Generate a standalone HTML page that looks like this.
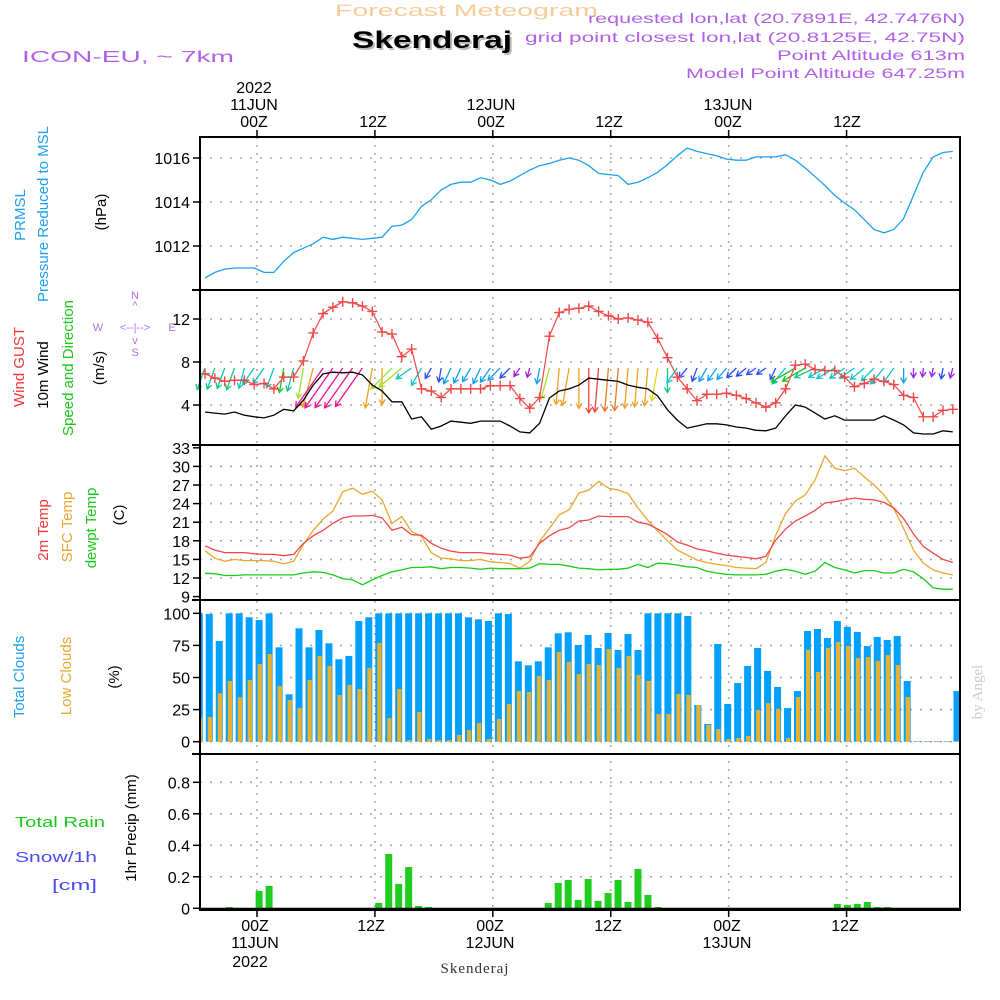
<!DOCTYPE html>
<html><head><meta charset="utf-8"><title>Forecast Meteogram Skenderaj</title>
<style>
html,body{margin:0;padding:0;background:#fff;}
svg{display:block;font-family:"Liberation Sans",sans-serif;}
</style></head>
<body>
<svg id="chart" xmlns="http://www.w3.org/2000/svg" width="1000" height="1000" viewBox="0 0 1000 1000">
<rect x="0" y="0" width="1000" height="1000" fill="#fff"/>
<g id="grid"></g>
<g id="marks"></g>
<g id="axes"></g>
<!-- header -->
<text x="335" y="16" font-size="17" fill="#f5cc98" textLength="263" lengthAdjust="spacingAndGlyphs">Forecast Meteogram</text>
<text x="354" y="50" font-size="24" font-weight="bold" fill="#bbb" textLength="160" lengthAdjust="spacingAndGlyphs">Skenderaj</text>
<text x="352" y="48" font-size="24" font-weight="bold" fill="#000" textLength="160" lengthAdjust="spacingAndGlyphs">Skenderaj</text>
<text x="22" y="62" font-size="16" fill="#b060e8" textLength="212" lengthAdjust="spacingAndGlyphs">ICON-EU, ~ 7km</text>
<text x="965" y="23" font-size="14" fill="#b060e8" text-anchor="end" textLength="377" lengthAdjust="spacingAndGlyphs">requested lon,lat (20.7891E, 42.7476N)</text>
<text x="965" y="42" font-size="14" fill="#b060e8" text-anchor="end" textLength="440" lengthAdjust="spacingAndGlyphs">grid point closest lon,lat (20.8125E, 42.75N)</text>
<text x="965" y="60" font-size="14" fill="#b060e8" text-anchor="end" textLength="188" lengthAdjust="spacingAndGlyphs">Point Altitude 613m</text>
<text x="965" y="78" font-size="14" fill="#b060e8" text-anchor="end" textLength="279" lengthAdjust="spacingAndGlyphs">Model Point Altitude 647.25m</text>
<!-- top time labels -->
<g font-size="16" fill="#000" text-anchor="middle">
<text x="254" y="93">2022</text>
<text x="254" y="110">11JUN</text>
<text x="254" y="127">00Z</text>
<text x="373" y="127">12Z</text>
<text x="491" y="110">12JUN</text>
<text x="491" y="127">00Z</text>
<text x="609" y="127">12Z</text>
<text x="728" y="110">13JUN</text>
<text x="728" y="127">00Z</text>
<text x="847" y="127">12Z</text>
</g>
<g font-size="16" fill="#000" text-anchor="middle">
<text x="255" y="931">00Z</text>
<text x="255" y="948">11JUN</text>
<text x="250" y="967">2022</text>
<text x="371" y="931">12Z</text>
<text x="490" y="931">00Z</text>
<text x="490" y="948">12JUN</text>
<text x="608" y="931">12Z</text>
<text x="727" y="931">00Z</text>
<text x="727" y="948">13JUN</text>
<text x="845" y="931">12Z</text>
</g>
<text x="475" y="973" font-size="15" font-family="Liberation Serif, serif" fill="#333" text-anchor="middle" letter-spacing="1">Skenderaj</text>
<!-- left axis titles -->
<g font-size="15" text-anchor="middle">
<text transform="translate(25,215) rotate(-90)" fill="#1ea0f0">PRMSL</text>
<text transform="translate(48,214) rotate(-90)" fill="#1ea0f0">Pressure Reduced to MSL</text>
<text transform="translate(106,212) rotate(-90)" fill="#000">(hPa)</text>
<text transform="translate(24,367) rotate(-90)" fill="#f03838">Wind GUST</text>
<text transform="translate(48,375) rotate(-90)" fill="#000">10m Wind</text>
<text transform="translate(73,368) rotate(-90)" fill="#1cc81c">Speed and Direction</text>
<text transform="translate(104,368) rotate(-90)" fill="#000">(m/s)</text>
<text transform="translate(48,530) rotate(-90)" fill="#f03838">2m Temp</text>
<text transform="translate(72,527) rotate(-90)" fill="#e8a830">SFC Temp</text>
<text transform="translate(96,528) rotate(-90)" fill="#1cc81c">dewpt Temp</text>
<text transform="translate(124,515) rotate(-90)" fill="#000">(C)</text>
<text transform="translate(24,677) rotate(-90)" fill="#1ea0f0">Total Clouds</text>
<text transform="translate(71,676) rotate(-90)" fill="#e8a830">Low Clouds</text>
<text transform="translate(119,677) rotate(-90)" fill="#000">(%)</text>
<text transform="translate(136,828) rotate(-90)" fill="#000">1hr Precip (mm)</text>
</g>
<text x="15" y="827" font-size="15" fill="#1cc81c" textLength="90" lengthAdjust="spacingAndGlyphs">Total  Rain</text>
<text x="15" y="862" font-size="15" fill="#4a4af0" textLength="82" lengthAdjust="spacingAndGlyphs">Snow/1h</text>
<text x="52" y="890" font-size="15" fill="#4a4af0" textLength="45" lengthAdjust="spacingAndGlyphs">[cm]</text>
<text transform="translate(982,692) rotate(-90)" font-size="15" font-family="Liberation Serif, serif" fill="#ccc" text-anchor="middle">by Angel</text>
<!-- compass -->
<g font-size="11" fill="#b070e8" text-anchor="middle">
<text x="135" y="299">N</text>
<text x="135" y="309">^</text>
<text x="98" y="331">W</text>
<text x="135" y="331">&lt;--|--&gt;</text>
<text x="172" y="331">E</text>
<text x="135" y="344">v</text>
<text x="135" y="356">S</text>
</g>
</svg>
<script>
// ---- data (hourly, index 0..76) ----
const pressure = [1010.55,1010.8,1010.95,1011.0,1011.0,1011.0,1010.8,1010.8,1011.3,1011.7,1011.9,1012.1,1012.4,1012.3,1012.4,1012.35,1012.3,1012.35,1012.4,1012.9,1012.95,1013.2,1013.8,1014.1,1014.55,1014.8,1014.9,1014.9,1015.1,1015.0,1014.8,1014.95,1015.2,1015.45,1015.65,1015.75,1015.9,1016.0,1015.9,1015.65,1015.3,1015.25,1015.2,1014.8,1014.9,1015.1,1015.35,1015.7,1016.1,1016.45,1016.3,1016.2,1016.1,1015.95,1015.9,1015.9,1016.05,1016.05,1016.05,1016.15,1015.9,1015.55,1015.15,1014.75,1014.3,1013.95,1013.65,1013.2,1012.75,1012.6,1012.75,1013.25,1014.3,1015.35,1016.05,1016.25,1016.3];
const windGust = [6.9,6.5,6.2,6.3,6.3,5.9,6.0,5.5,6.6,6.6,8.1,10.7,12.5,13.1,13.6,13.5,13.2,12.7,10.8,10.6,8.5,9.2,5.5,5.3,4.7,5.5,5.5,5.5,5.5,5.8,5.8,5.8,4.6,3.7,4.7,10.4,12.6,12.9,13.0,13.2,12.7,12.3,12.0,12.1,11.9,11.7,10.2,8.4,6.6,5.5,4.4,5.0,5.0,5.1,4.9,4.6,4.2,3.8,4.2,5.5,7.7,7.8,7.3,7.2,7.2,6.6,5.7,6.0,6.4,6.2,5.9,4.9,4.7,2.9,2.9,3.5,3.6];
const windSpeed = [3.35,3.25,3.15,3.35,3.05,2.9,2.8,3.05,3.6,3.45,4.45,5.85,6.9,7.05,7.0,7.05,6.8,5.85,5.3,4.3,4.3,2.7,2.9,1.75,2.05,2.5,2.4,2.3,2.5,2.5,2.5,2.05,1.5,1.4,2.3,4.65,5.3,5.5,5.85,6.5,6.4,6.3,6.2,5.85,5.65,5.5,4.85,3.55,2.6,1.85,2.05,2.25,2.25,2.15,1.95,1.85,1.65,1.6,1.85,3.0,4.0,3.8,3.25,2.7,3.0,2.6,2.6,2.6,2.6,3.0,2.6,2.15,1.4,1.3,1.3,1.6,1.5];
const windDir = [20,20,20,20,15,35,35,20,10,15,10,15,35,35,35,35,35,10,0,45,50,55,30,30,10,25,25,30,25,35,45,45,35,15,10,15,5,10,0,0,5,5,5,5,5,5,10,0,35,40,20,30,35,40,45,50,55,55,25,40,60,60,65,60,60,55,55,50,45,40,35,0,0,5,10,10,15];
const temp2m = [17.2,16.5,16.1,16.1,16.1,15.9,15.8,15.8,15.6,15.8,17.6,18.8,19.7,20.8,21.7,22.0,22.0,22.1,21.7,19.7,20.2,19.0,18.9,17.6,16.8,16.3,16.1,16.1,16.1,15.9,15.8,15.7,15.2,15.4,17.6,18.8,19.7,20.1,21.2,21.35,22.0,21.9,21.9,21.9,21.0,20.7,19.9,19.0,17.8,17.3,16.7,16.4,16.0,15.7,15.5,15.3,15.1,15.5,18.1,19.9,21.2,22.0,22.9,24.1,24.3,24.6,24.9,24.7,24.6,24.2,23.3,21.6,19.1,17.1,16.0,15.0,14.5];
const tempSfc = [16.4,15.2,14.7,15.0,14.8,14.8,14.8,14.7,14.3,14.7,17.4,19.7,21.5,22.8,25.9,26.5,25.5,26.0,24.6,20.8,21.9,19.5,18.7,16.1,15.2,15.1,14.8,14.8,15.0,14.6,14.5,14.3,13.6,14.7,17.9,20.0,22.2,23.0,25.7,26.2,27.6,26.5,26.2,25.6,23.3,21.3,19.6,18.0,16.5,15.7,14.9,14.5,14.2,14.0,13.7,13.6,13.5,14.5,18.9,22.4,24.4,25.4,27.8,31.7,29.7,29.3,29.7,28.3,27.0,25.4,23.2,20.0,16.5,14.4,13.3,12.8,12.5];
const dewpoint = [12.76,12.7,12.4,12.4,12.5,12.5,12.5,12.5,12.5,12.5,12.8,13.0,12.9,12.5,11.9,11.7,10.9,11.7,12.4,13.0,13.3,13.7,13.7,13.8,13.5,13.7,13.7,13.6,13.4,13.6,13.5,13.5,13.5,13.6,14.3,14.2,14.2,13.9,13.6,13.5,13.3,13.4,13.4,13.6,14.2,13.7,14.4,14.3,14.1,13.8,13.7,13.1,12.8,12.6,12.5,12.5,12.5,12.6,13.1,13.4,13.1,12.6,13.1,14.5,13.7,13.3,12.8,13.2,13.2,12.8,12.8,13.4,13.0,11.9,10.4,10.2,10.2];
const totalClouds = [100,99.5,78.4,100,100,96.9,94.8,100,73.5,36.9,88.3,73.5,87,76.6,64.2,66.8,94,96.9,100,100,100,100,100,100,100,100,100,96.9,95.3,94,100,99.5,62.6,59.5,62.6,73.5,84.4,85.2,75.3,83.1,73,84.7,71.4,83.9,71.4,100,100,100,100,97.9,28.6,13.8,76.1,29.4,45.7,59,73,55.1,42.6,26.2,39.5,86.2,87.8,80.8,94,89.4,85.5,74.5,81.6,79.2,82.3,47.3,0.5,0.5,0.5,0.5,39.5];
const lowClouds = [18.4,19.2,37.7,47.3,34.5,48,60.5,68.3,43.4,32.5,26.2,48,66.8,59,36.4,44.2,41,57.4,76.9,18.4,41,1.3,23.1,2.1,1.3,1.3,5.2,9.1,14.5,2.1,17.7,29.4,39.5,38.7,51.2,48,69.9,62.1,52.7,60.5,59.7,72.2,57.4,66.8,52,47.3,21.6,21.6,37.1,36.4,28.6,13,9.9,2.1,2.9,4.4,24.7,30.1,25.5,2.9,34.8,71.4,54.3,73,77.7,74.5,65.2,66,62.9,67.5,59.7,34.8,0.5,0.5,0.5,0.5,0.5];
const precip = [0,0.002,0.002,0.008,0,0,0.11,0.142,0,0,0,0,0,0,0,0,0,0,0.034,0.345,0.155,0.262,0.015,0.008,0,0,0,0,0,0,0,0,0,0,0,0.034,0.161,0.18,0.053,0.186,0.047,0.097,0.18,0.04,0.25,0.085,0.008,0,0,0,0,0,0,0,0,0,0,0,0,0,0,0,0,0,0.028,0.021,0.028,0.04,0.008,0.008,0,0,0,0,0,0,0];
const timeTickHours = [0,12,24,36,48,60];
const pressureTicks = [1012,1014,1016];
const windTicks = [4,8,12];
const tempTicks = [9,12,15,18,21,24,27,30,33];
const cloudTicks = [0,25,50,75,100];
const precipTicks = [0,0.2,0.4,0.6,0.8];
const precipTickLabels = ["0","0.2","0.4","0.6","0.8"];

// ---- scales ----
const NS="http://www.w3.org/2000/svg";
const xLine = i => 205 + i*9.84;
const xBar = i => 199.3 + i*9.97;
const xHour = h => 257 + h*9.826;
const yP = p => 158 + (1016-p)*22;
const yW = v => 448 - v*10.75;
const yT = t => 578 - (t-12)*6.2;
const yC = c => 741.7 - c*1.284;
const yR = r => 908.3 - r*157.5;
const L=200, R=960;
const panels=[[137,290],[290,445],[445,600],[600,754],[754,910]];

function mk(tag, attrs, parent){
  const e=document.createElementNS(NS,tag);
  for(const k in attrs) e.setAttribute(k,attrs[k]);
  parent.appendChild(e);
  return e;
}
const gGrid=document.getElementById('grid');
const gMarks=document.getElementById('marks');
const gAxes=document.getElementById('axes');

// grid: vertical time lines
timeTickHours.forEach(h=>{
  const ln=mk('line',{x1:xHour(h),x2:xHour(h),y1:137,y2:910,stroke:'#aaa','stroke-width':1.6,'stroke-dasharray':'2,6'},gGrid);
  
  
});
function hgrid(vals, f, name){
  vals.forEach(v=>{
    const ln=mk('line',{x1:L,x2:R,y1:f(v),y2:f(v),stroke:'#aaa','stroke-width':1.6,'stroke-dasharray':'2,8'},gGrid);
    
    
  });
}
hgrid(pressureTicks,yP,'pressure-gridline');
hgrid(windTicks,yW,'wind-gridline');
hgrid(tempTicks.slice(1,-1),yT,'temp-gridline');
hgrid(cloudTicks,yC,'cloud-gridline');
hgrid(precipTicks.slice(1),yR,'precip-gridline');

function pts(arr,fy){return arr.map((v,i)=>xLine(i).toFixed(1)+','+fy(v).toFixed(1)).join(' ');}

// pressure line
const pl=mk('polyline',{points:pts(pressure,yP),fill:'none',stroke:'#1ea0f0','stroke-width':1.3},gMarks);



// wind arrows
function windColor(s){
  if(s<1.6) return '#9a20e8';
  if(s<2.1) return '#2a4cf5';
  if(s<2.6) return '#10a0f0';
  if(s<3.1) return '#10c4c8';
  if(s<3.6) return '#10c88c';
  if(s<4.2) return '#20c020';
  if(s<4.8) return '#a0e030';
  if(s<5.2) return '#e0d820';
  if(s<5.9) return '#f0a020';
  if(s<6.4) return '#f07820';
  if(s<6.8) return '#f04040';
  return '#f01090';
}
windSpeed.forEach((s,i)=>{
  const a=windDir[i]*Math.PI/180, len=s*6.9;
  const x0=xLine(i), y0=368;
  const x1=x0-len*Math.sin(a), y1=y0+len*Math.cos(a);
  const ux=(x1-x0)/len, uy=(y1-y0)/len, hs=6;
  const c=windColor(s);
  const d=`M${x0.toFixed(1)},${y0} L${x1.toFixed(1)},${y1.toFixed(1)} M${(x1-hs*(ux*0.85-uy*0.5)).toFixed(1)},${(y1-hs*(uy*0.85+ux*0.5)).toFixed(1)} L${x1.toFixed(1)},${y1.toFixed(1)} L${(x1-hs*(ux*0.85+uy*0.5)).toFixed(1)},${(y1-hs*(uy*0.85-ux*0.5)).toFixed(1)}`;
  const p=mk('path',{d:d,fill:'none',stroke:c,'stroke-width':1.3},gMarks);
  
  
});
// wind speed line
const wl=mk('polyline',{points:pts(windSpeed,yW),fill:'none',stroke:'#000','stroke-width':1.3},gMarks);


// gust line + markers
const gl=mk('polyline',{points:pts(windGust,yW),fill:'none',stroke:'#f04848','stroke-width':1.2},gMarks);


windGust.forEach((v,i)=>{
  const x=xLine(i), y=yW(v);
  const m=mk('path',{d:`M${x-5},${y} H${x+5} M${x},${y-5} V${y+5}`,stroke:'#f04848','stroke-width':1.4},gMarks);
  
  
});

// temperature lines
[[tempSfc,'#e8a830','sfc-temp-line'],[temp2m,'#f04848','temp-2m-line'],[dewpoint,'#18cc18','dewpoint-line']].forEach(([arr,c,n])=>{
  const t=mk('polyline',{points:pts(arr,yT),fill:'none',stroke:c,'stroke-width':1.3},gMarks);
  
  
});

// clouds bars
const clip=mk('clipPath',{id:'plotclip'},gMarks);
mk('rect',{x:L,y:137,width:R-L,height:773},clip);
const gBars=mk('g',{'clip-path':'url(#plotclip)'},gMarks);


totalClouds.forEach((v,i)=>{
  const b=mk('rect',{x:xBar(i)-3.5,y:yC(v),width:7,height:Math.max(0.5,yC(0)-yC(v)),fill:'#00a0ff'},gBars);
  
  
});
lowClouds.forEach((v,i)=>{
  const b=mk('rect',{x:xBar(i)-1.5,y:yC(v),width:4.3,height:Math.max(0.5,yC(0)-yC(v)),fill:'#e8b030'},gBars);
  
  
});
// precip bars
precip.forEach((v,i)=>{
  if(v<=0) return;
  const b=mk('rect',{x:xBar(i)-3.5,y:yR(v),width:7,height:yR(0)-yR(v),fill:'#20cc20'},gBars);
  
  
});

// axes frame
const frame=mk('path',{d:`M${L},137 H${R} V910 H${L} Z`,fill:'none',stroke:'#000','stroke-width':2},gAxes);


[290,445,600,754].forEach(y=>{
  const s=mk('line',{x1:L-8,x2:R,y1:y,y2:y,stroke:'#000','stroke-width':2},gAxes);
  
  
});
const bl=mk('line',{x1:L,x2:R,y1:909,y2:909,stroke:'#000','stroke-width':2.5},gAxes);


timeTickHours.forEach(h=>{
  const t1=mk('line',{x1:xHour(h),x2:xHour(h),y1:130,y2:137,stroke:'#000','stroke-width':1.5},gAxes);
  
  
  const t2=mk('line',{x1:xHour(h),x2:xHour(h),y1:910,y2:917,stroke:'#000','stroke-width':1.5},gAxes);
  
  
});
function yAxis(vals,labels,f,name){
  vals.forEach((v,k)=>{
    const y=f(v);
    const t=mk('line',{x1:L-7,x2:L,y1:y,y2:y,stroke:'#000','stroke-width':1.5},gAxes);
    
    
    const tx=mk('text',{x:L-10,y:y+6,'font-size':16,'text-anchor':'end',fill:'#000'},gAxes);
    tx.textContent=labels[k];
    
    
  });
}
yAxis(pressureTicks,pressureTicks.map(String),yP,'pressure');
yAxis(windTicks,windTicks.map(String),yW,'wind');
yAxis(tempTicks,tempTicks.map(String),yT,'temp');
yAxis(cloudTicks,cloudTicks.map(String),yC,'cloud');
yAxis(precipTicks,precipTickLabels,yR,'precip');
</script>
</body></html>
